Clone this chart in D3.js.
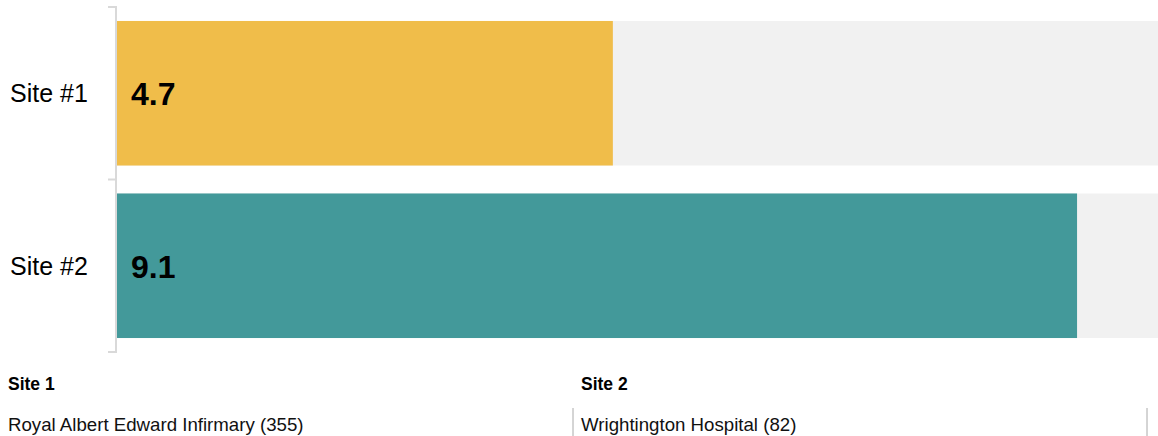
<!DOCTYPE html>
<html>
<head>
<meta charset="utf-8">
<script src="https://cdn.jsdelivr.net/npm/d3@7"></script>
<style>
  html, body { margin: 0; padding: 0; background: #fff; }
  svg { display: block; font-family: "Liberation Sans", Arial, sans-serif; }
</style>
</head>
<body>
<svg id="chart" width="1158" height="436"></svg>
<script>
const categories = ["Site #1", "Site #2"];
const values = [4.7, 9.1];
const valueLabels = ["4.7", "9.1"];
const barColors = ["#f0bd4a", "#43999a"];
const maxValue = 10;
const footerTitles = ["Site 1", "Site 2"];
const footerNames = ["Royal Albert Edward Infirmary (355)", "Wrightington Hospital (82)"];

const W = 1158, H = 436;
const svg = d3.select("#chart");

const y = d3.scaleBand().domain(categories).range([7, 352]).paddingInner(0.162).paddingOuter(0.081);
const band = d3.scaleBand().domain(categories).range([7, 352]);
const x = d3.scaleLinear().domain([0, maxValue]).range([117, 1172]);

// background bars
svg.append("g").selectAll("rect").data(categories).join("rect")
  .attr("x", x(0)).attr("y", d => y(d))
  .attr("width", x(maxValue) - x(0)).attr("height", y.bandwidth())
  .attr("fill", "#f1f1f1");

// value bars
svg.append("g").selectAll("rect").data(categories).join("rect")
  .attr("x", x(0)).attr("y", d => y(d))
  .attr("width", (d, i) => x(values[i]) - x(0)).attr("height", y.bandwidth())
  .attr("fill", (d, i) => barColors[i]);

// axis line with ticks at band boundaries
const ag = svg.append("g");
ag.append("line").attr("x1", 116).attr("x2", 116).attr("y1", band.range()[0]).attr("y2", band.range()[1])
  .attr("stroke", "#d9d9d9").attr("stroke-width", 2);
const edges = categories.map(d => band(d)).concat([band.range()[1]]);
ag.selectAll("line.tick").data(edges).join("line").attr("class", "tick")
  .attr("x1", 108).attr("x2", 117).attr("y1", d => d).attr("y2", d => d)
  .attr("stroke", "#d9d9d9").attr("stroke-width", 2);

// category labels
svg.append("g").selectAll("text").data(categories).join("text")
  .attr("x", 10).attr("y", d => y(d) + y.bandwidth() / 2 + 9)
  .attr("font-size", 25).attr("fill", "#000").text(d => d);

// value labels
svg.append("g").selectAll("text").data(categories).join("text")
  .attr("x", 131).attr("y", d => y(d) + y.bandwidth() / 2 + 12)
  .attr("font-size", 32).attr("font-weight", "bold").attr("fill", "#000")
  .text((d, i) => valueLabels[i]);

// footer
const fx = [8, 581];
const fg = svg.append("g");
footerTitles.forEach((t, i) => {
  fg.append("text").attr("x", fx[i]).attr("y", 390).attr("font-size", 17.5)
    .attr("font-weight", "bold").attr("fill", "#000").text(t);
  fg.append("text").attr("x", fx[i]).attr("y", 431).attr("font-size", 18.67)
    .attr("fill", "#111").text(footerNames[i]);
});
[573, 1147].forEach(px => {
  fg.append("line").attr("x1", px).attr("x2", px).attr("y1", 408).attr("y2", 436)
    .attr("stroke", "#aaa").attr("stroke-width", 1);
});
</script>
</body>
</html>
